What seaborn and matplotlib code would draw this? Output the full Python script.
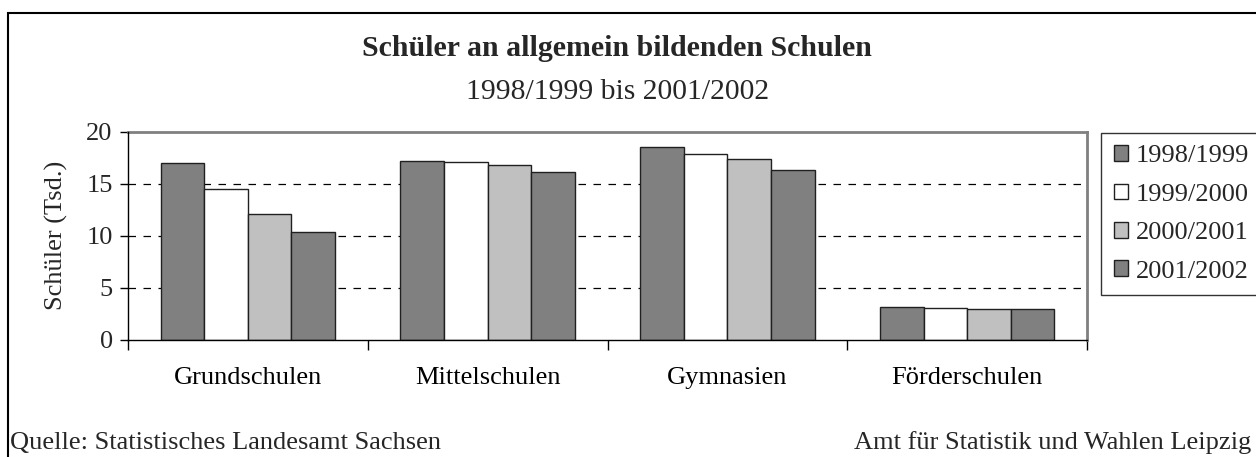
import matplotlib
matplotlib.use("Agg")
import matplotlib.pyplot as plt
from matplotlib.patches import Rectangle
from matplotlib.ticker import FixedLocator, NullFormatter
import seaborn as sns
import pandas as pd

categories = ["Grundschulen", "Mittelschulen", "Gymnasien", "Förderschulen"]
years = ["1998/1999", "1999/2000", "2000/2001", "2001/2002"]
v_1998 = [17.0, 17.2, 18.55, 3.1]
v_1999 = [14.5, 17.15, 17.9, 3.03]
v_2000 = [12.1, 16.8, 17.4, 2.93]
v_2001 = [10.4, 16.15, 16.3, 2.9]
colors = ["#808080", "#FFFFFF", "#C0C0C0", "#808080"]

rows = []
for yr, vals in zip(years, [v_1998, v_1999, v_2000, v_2001]):
    for c, v in zip(categories, vals):
        rows.append({"Schulart": c, "Jahr": yr, "Wert": v})
df = pd.DataFrame(rows)

sns.set_theme(style="white")
plt.rcParams["font.family"] = ["Liberation Serif", "DejaVu Serif"]

FS = 19
W, H = 1256, 457
fig = plt.figure(figsize=(W / 100, H / 100), dpi=100)
ax = fig.add_axes([128 / W, 1 - 339.5 / H, (1087 - 128) / W, (339.5 - 132) / H])

sns.barplot(data=df, x="Schulart", y="Wert", hue="Jahr", order=categories,
            hue_order=years, palette=colors, width=0.727, edgecolor="#202020",
            linewidth=1.0, saturation=1, ax=ax, legend=True, zorder=3)

ax.set_ylim(0, 20)
ax.set_xlim(-0.5, 3.5)
ax.set_yticks([0, 5, 10, 15, 20])
ax.set_yticklabels(["0", "5", "10", "15", "20"], fontsize=FS)
ax.set_xticks(range(4))
ax.set_xticklabels(categories, fontsize=FS)
ax.xaxis.set_minor_locator(FixedLocator([-0.5, 0.5, 1.5, 2.5, 3.5]))
ax.xaxis.set_minor_formatter(NullFormatter())
ax.tick_params(axis="x", which="major", length=0, pad=20, colors="black")
ax.tick_params(axis="x", which="minor", length=7, width=1, direction="out", color="black", bottom=True)
ax.tick_params(axis="y", length=6, width=1, direction="out", color="black", pad=5, left=True)
ax.set_xlabel("")
ax.set_ylabel("Schüler (Tsd.)", fontsize=FS, labelpad=13)

for yv in [5, 10, 15]:
    ax.axhline(yv, color="black", linestyle=(0, (6, 6)), linewidth=0.9, zorder=1)
ax.grid(False)

for s in ["top", "right"]:
    ax.spines[s].set_color("#808080")
    ax.spines[s].set_linewidth(2)
for s in ["left", "bottom"]:
    ax.spines[s].set_color("black")
    ax.spines[s].set_linewidth(1)
    ax.spines[s].set_zorder(5)

handles, labels = ax.get_legend_handles_labels()
ax.get_legend().remove()
leg = fig.legend(handles, labels, loc="upper left",
                 bbox_to_anchor=(1101 / W, 1 - 132.5 / H),
                 frameon=True, fancybox=False, edgecolor="black",
                 fontsize=FS, handlelength=0.55, handleheight=0.55,
                 handletextpad=0.3, labelspacing=0.61, borderpad=0.48,
                 borderaxespad=0)
leg.get_frame().set_linewidth(1)

fig.text(617 / W, 1 - 49 / H, "Schüler an allgemein bildenden Schulen",
         ha="center", va="center", fontsize=21.5, fontweight="bold")
fig.text(618 / W, 1 - 92 / H, "1998/1999 bis 2001/2002", ha="center",
         va="center", fontsize=21.3)

fig.text(10 / W, 1 - 443 / H, "Quelle: Statistisches Landesamt Sachsen",
         ha="left", va="center", fontsize=FS)
fig.text(1251 / W, 1 - 443 / H, "Amt für Statistik und Wahlen Leipzig",
         ha="right", va="center", fontsize=FS)

fig.patches.append(Rectangle((8 / W, -0.05), 1.1, 1 - 13 / H + 0.05,
                             transform=fig.transFigure, fill=False,
                             edgecolor="black", linewidth=1.5, zorder=0))

fig.savefig("out.png", dpi=100)
